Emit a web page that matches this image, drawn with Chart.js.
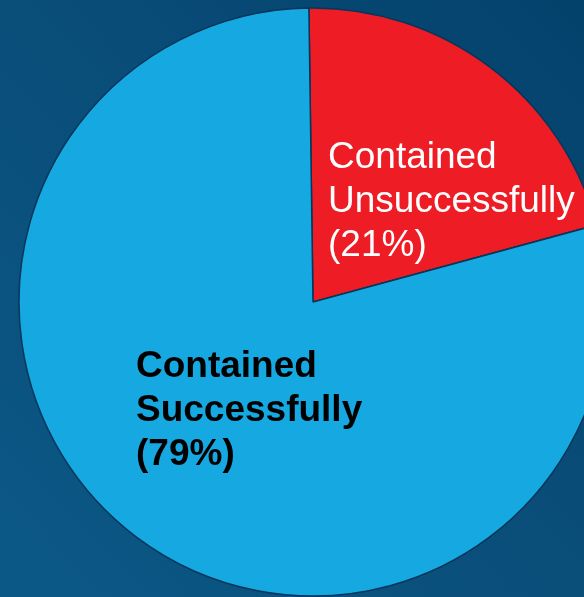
<!DOCTYPE html>
<html>
<head>
<meta charset="utf-8">
<script src="https://cdn.jsdelivr.net/npm/chart.js@4"></script>
<style>
  html, body { margin: 0; padding: 0; overflow: hidden; }
  body {
    width: 584px; height: 597px;
    background: linear-gradient(to top right, #0b5887 0%, #0a4e7a 50%, #03426b 100%);
  }
  #chart { display: block; }
</style>
</head>
<body>
<canvas id="chart" width="584" height="597"></canvas>
<script>
// containment outcome shares
let categories = ['Contained Unsuccessfully', 'Contained Successfully'];
let shares = [21, 79];
let sliceColors = ['#ee1d25', '#16a9e1'];
let labelColors = ['#ffffff', '#000000'];
let labelWeights = ['normal', 'bold'];

// where each slice's text block starts, relative to the pie centre
let labelOffsets = [
  {dx: 15, dy: -134},
  {dx: -177, dy: 75}
];

// break "Contained Xxx" onto two lines and add the share underneath
function labelLines(i) {
  let words = categories[i].split(' ');
  return words.concat(['(' + shares[i] + '%)']);
}

let sliceLabels = {
  id: 'sliceLabels',
  afterDatasetsDraw(chart) {
    let ctx = chart.ctx;
    let meta = chart.getDatasetMeta(0);
    meta.data.forEach(function (arc, i) {
      let p = arc.getProps(['x', 'y'], true);
      let lines = labelLines(i);
      ctx.save();
      ctx.fillStyle = labelColors[i];
      ctx.font = labelWeights[i] + ' 37px "Liberation Sans", Arial, sans-serif';
      ctx.textAlign = 'left';
      ctx.textBaseline = 'alphabetic';
      lines.forEach(function (line, j) {
        ctx.fillText(line, p.x + labelOffsets[i].dx, p.y + labelOffsets[i].dy + j * 44);
      });
      ctx.restore();
    });
  }
};

let ctx = document.getElementById('chart').getContext('2d');
let pie = new Chart(ctx, {
  type: 'pie',
  data: {
    labels: categories,
    datasets: [{
      data: shares,
      backgroundColor: sliceColors,
      borderColor: '#08365a',
      borderWidth: 1.5
    }]
  },
  options: {
    responsive: false,
    animation: false,
    rotation: -0.8,
    radius: 294,
    layout: {
      padding: {left: 42, right: 0, top: 7, bottom: 0}
    },
    plugins: {
      legend: {display: false},
      tooltip: {enabled: false}
    }
  },
  plugins: [sliceLabels]
});
</script>
</body>
</html>
